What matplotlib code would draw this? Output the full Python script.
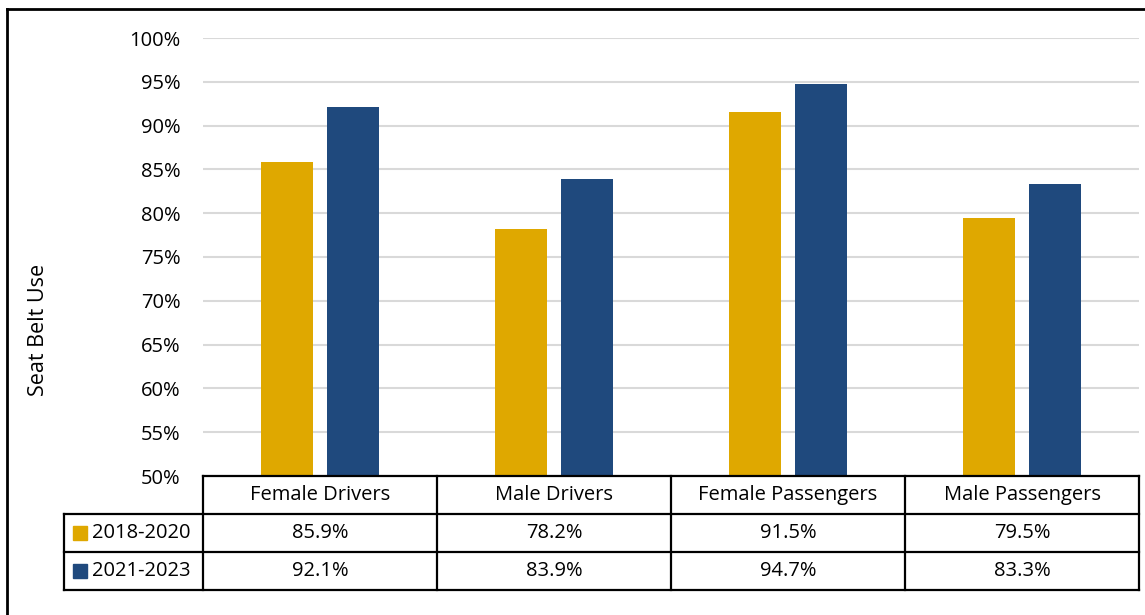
import matplotlib
matplotlib.use("Agg")
import numpy as np
import matplotlib.pyplot as plt
from matplotlib.lines import Line2D
from matplotlib.patches import Rectangle

plt.rcParams['font.family'] = ['Open Sans', 'DejaVu Sans']

categories = ["Female Drivers", "Male Drivers", "Female Passengers", "Male Passengers"]
series_names = ["2018-2020", "2021-2023"]
values_2018 = [85.9, 78.2, 91.5, 79.5]
values_2021 = [92.1, 83.9, 94.7, 83.3]
colors = ["#DFA800", "#1F497D"]

W, H = 1145, 615
fig = plt.figure(figsize=(W / 100, H / 100), dpi=100)

# axes placed in pixel terms
left, right, top, bottom = 203, 1139, 38, 476
ax = fig.add_axes([left / W, 1 - bottom / H, (right - left) / W, (bottom - top) / H])

x = np.arange(len(categories))
bw = 0.222
off = 0.143
ax.bar(x - off, values_2018, bw, color=colors[0], zorder=3)
ax.bar(x + off, values_2021, bw, color=colors[1], zorder=3)

ax.set_xlim(-0.5, len(categories) - 0.5)
ax.set_ylim(50, 100)
ax.set_yticks(np.arange(50, 101, 5))
ax.set_yticklabels([f"{v}%" for v in range(50, 101, 5)], fontsize=14.5)
ax.yaxis.grid(True, color="#D9D9D9", linewidth=1.5, zorder=0)
ax.tick_params(axis="y", length=0, pad=16)
ax.set_xticks([])
for s in ax.spines.values():
    s.set_visible(False)
ax.set_ylabel("Seat Belt Use", fontsize=15.5)
ax.yaxis.set_label_coords((49 - left) / (right - left), (bottom - 330) / (bottom - top))

# data table drawn below the axes, in pixel coordinates
def px(xp, yp):
    return xp / W, 1 - yp / H

rows_y = [476, 514, 552, 590]
col_x = [203, 437, 671, 905, 1139]
leg_left = 64
lw = 1.6

def hline(x0, x1, y):
    a, b = px(x0, y)
    c, _ = px(x1, y)
    fig.add_artist(Line2D([a, c], [b, b], color="black", lw=lw))

def vline(xp, y0, y1):
    a, b = px(xp, y0)
    _, d = px(xp, y1)
    fig.add_artist(Line2D([a, a], [b, d], color="black", lw=lw))

hline(col_x[0], col_x[-1], rows_y[0])
for y in rows_y[1:]:
    hline(leg_left, col_x[-1], y)
for xc in col_x:
    vline(xc, rows_y[0], rows_y[-1])
vline(leg_left, rows_y[1], rows_y[-1])

fs = 14.5
for i, cat in enumerate(categories):
    cx = (col_x[i] + col_x[i + 1]) / 2
    fig.text(*px(cx, (rows_y[0] + rows_y[1]) / 2), cat, ha="center", va="center", fontsize=fs)
    for r, vals in enumerate([values_2018, values_2021]):
        fig.text(*px(cx, (rows_y[r + 1] + rows_y[r + 2]) / 2), f"{vals[i]:.1f}%",
                 ha="center", va="center", fontsize=fs)

for r, name in enumerate(series_names):
    yc = (rows_y[r + 1] + rows_y[r + 2]) / 2
    sx, sy = px(73, yc + 7)
    fig.add_artist(Rectangle((sx, sy), 14 / W, 14 / H, color=colors[r], transform=fig.transFigure))
    fig.text(*px(92, yc), name, ha="left", va="center", fontsize=fs)

# outer border (top and left visible)
fig.add_artist(Line2D([7 / W, 1], [1 - 9 / H, 1 - 9 / H], color="black", lw=2))
fig.add_artist(Line2D([7 / W, 7 / W], [0, 1 - 9 / H], color="black", lw=2))

fig.savefig("out.png", dpi=100)
